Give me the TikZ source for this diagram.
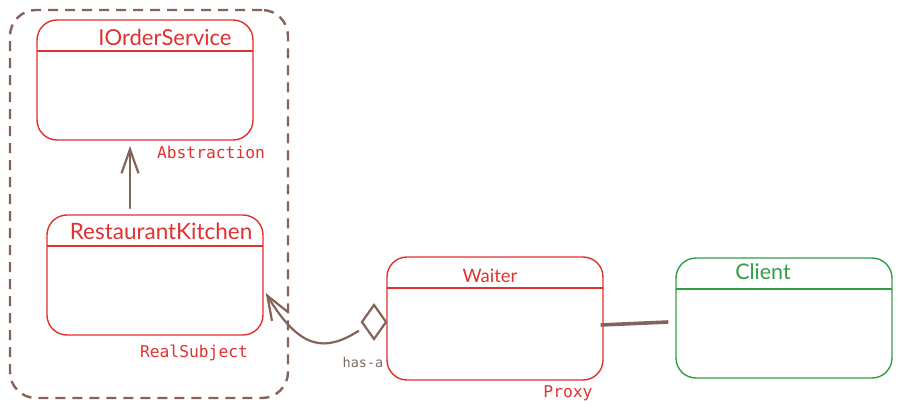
\documentclass[tikz,border=0pt]{standalone}
\usepackage{fontspec}
\setmainfont{Lato}
\newfontfamily\monofont{DejaVu Sans Mono}
\usetikzlibrary{arrows.meta,shapes.geometric}
\definecolor{exred}{HTML}{E03131}
\definecolor{exgreen}{HTML}{2F9E44}
\definecolor{exbrown}{HTML}{846358}
\definecolor{exgray}{HTML}{7D6A62}
\tikzset{
  box/.style={draw, line width=1.4pt, rounded corners=20pt, minimum width=216pt, minimum height=120pt, inner sep=0pt},
  title/.style={font=\fontsize{22.5}{24}\selectfont, inner sep=0pt},
  lbl/.style={font=\monofont\fontsize{16.3}{18}\selectfont, text=exred, inner sep=0pt},
  conn/.style={draw=exbrown, line width=2.2pt, line cap=round},
}
\begin{document}
\begin{tikzpicture}[x=1pt,y=-1pt]
\useasboundingbox (0,0) rectangle (903,412);
% dashed frame
\node[draw=exbrown, line width=2.4pt, dash pattern=on 10pt off 7pt, rounded corners=26pt, minimum width=278pt, minimum height=388pt, inner sep=0pt] (frame) at (149,204) {};
% IOrderService
\node[box, draw=exred] (ios) at (145,80) {};
\draw[exred, line width=1.4pt] (37,51) -- (253,51);
\node[title, text=exred, font=\fontsize{22}{24}\selectfont] (iost) at (165,37) {IOrderService};
\node[lbl] (abs) at (211,152) {Abstraction};
% RestaurantKitchen
\node[box, draw=exred] (rk) at (155,275) {};
\draw[exred, line width=1.4pt] (47,246) -- (263,246);
\node[title, text=exred] (rkt) at (161,231) {RestaurantKitchen};
\node[lbl] (rs) at (194,353) {RealSubject};
% Waiter
\node[box, draw=exred, minimum height=123pt] (w) at (495,318.5) {};
\draw[exred, line width=1.4pt] (387,288) -- (603,288);
\node[title, text=exred, font=\fontsize{18.5}{20}\selectfont] (wt) at (490,276) {Waiter};
\node[lbl] (px) at (568,393) {Proxy};
% Client
\node[box, draw=exgreen] (cl) at (784,318) {};
\draw[exgreen, line width=1.4pt] (676,289) -- (892,289);
\node[title, text=exgreen, font=\fontsize{21.5}{23}\selectfont] (clt) at (763,272) {Client};
% inheritance arrow
\coordinate (a1) at (130,208);
\draw[conn, -{Straight Barb[length=24pt,width=17pt,line width=2.2pt]}] (a1) -- (130,146);
% aggregation
\node[draw=exbrown, line width=2.2pt, diamond, minimum width=25pt, minimum height=35pt, inner sep=0pt] (dia) at (374,322) {};
\draw[conn, -{Straight Barb[length=24pt,width=18pt,line width=2.2pt]}] ([xshift=-2pt,yshift=-9pt]dia.west) .. controls (325,352) and (300,350) .. ([xshift=2pt,yshift=-18pt]rk.east);
\node[font=\monofont\fontsize{13.5}{15}\selectfont, text=exgray, inner sep=0pt] (hasa) at (363,362) {has-a};
% association
\draw[conn, line width=3.6pt, line cap=butt] ([xshift=-3pt,yshift=-6.5pt]w.east) -- ([xshift=-7pt,yshift=-4pt]cl.west);
\end{tikzpicture}
\end{document}
